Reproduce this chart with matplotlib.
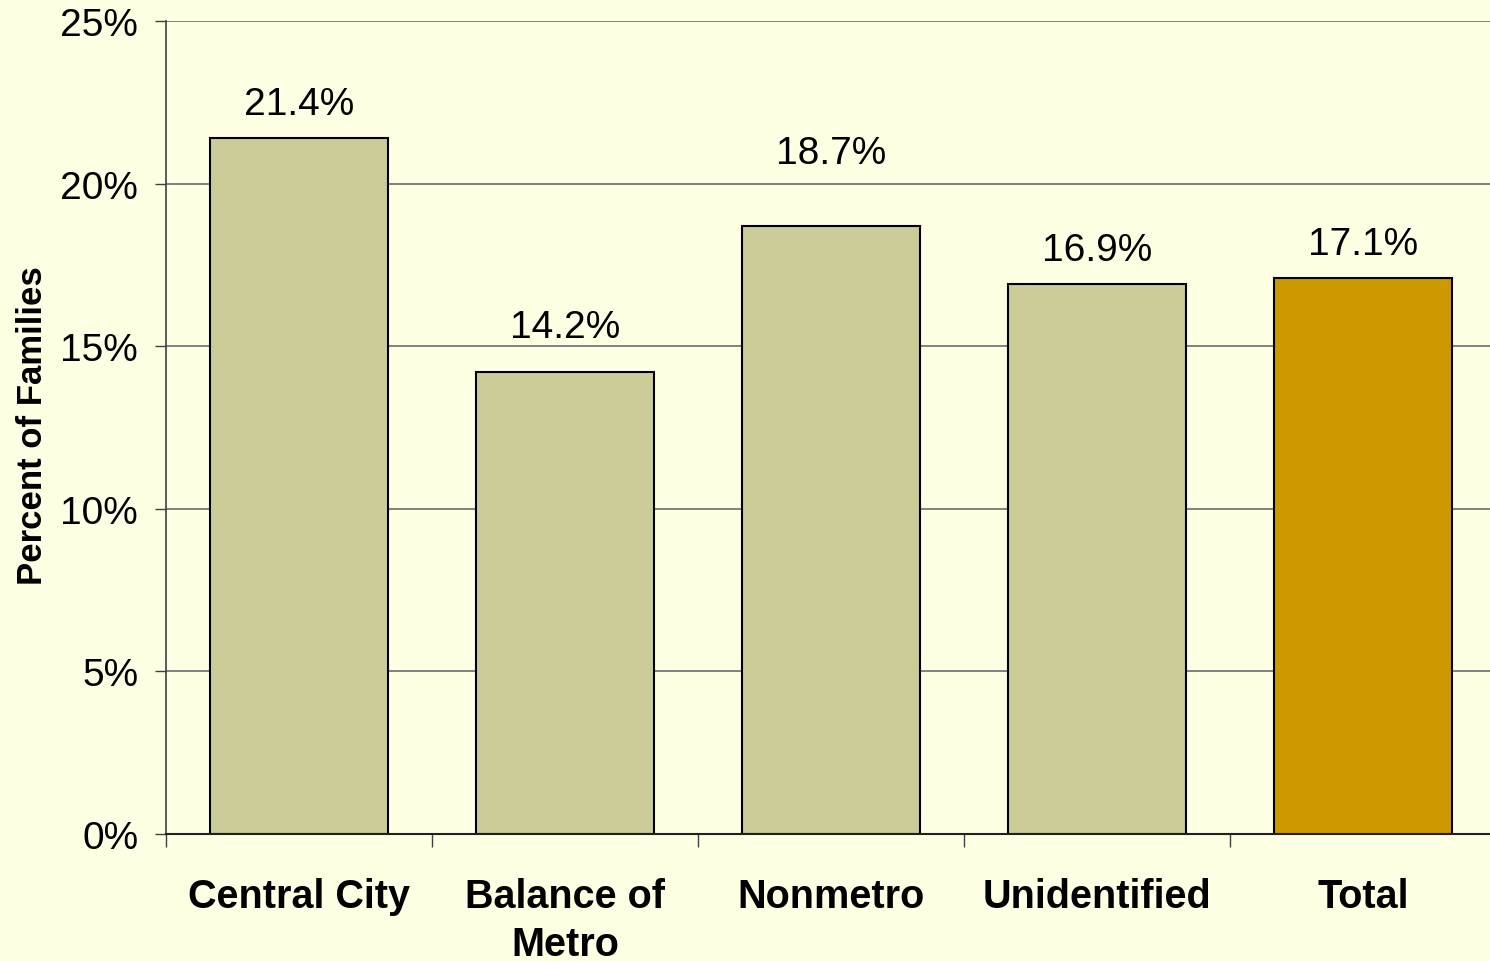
import matplotlib
matplotlib.use("Agg")
import matplotlib.pyplot as plt
from matplotlib.ticker import MultipleLocator, FixedLocator, PercentFormatter

categories = ["Central City", "Balance of\nMetro", "Nonmetro", "Unidentified", "Total"]
values = [21.4, 14.2, 18.7, 16.9, 17.1]
bar_colors = ["#CCCC99", "#CCCC99", "#CCCC99", "#CCCC99", "#CC9900"]
label_offsets_pt = [17.3, 25.2, 45.4, 17.3, 17.3]  # baseline offset of value labels (points)

plt.rcParams['font.family'] = ['Liberation Sans', 'DejaVu Sans']
bg = "#FFFFE3"

fig = plt.figure(figsize=(14.9, 9.62), dpi=100, facecolor=bg)
ax = fig.add_axes([166/1490, 1 - 835/962, 1 - 166/1490, (835 - 22)/962])
ax.set_facecolor(bg)

x = list(range(len(categories)))
ax.bar(x, values, width=0.67, color=bar_colors, edgecolor="black", linewidth=1.5, zorder=3)

for xi, v, off in zip(x, values, label_offsets_pt):
    ax.annotate(f"{v:.1f}%", (xi, v), xytext=(0, off), textcoords="offset points",
                ha="center", va="baseline", fontsize=28, color="black", zorder=4)

ax.set_ylim(0, 25)
ax.set_xlim(-0.5, (1490 - 166) / 266 - 0.5)
ax.yaxis.set_major_locator(MultipleLocator(5))
ax.yaxis.set_major_formatter(PercentFormatter(decimals=0))
ax.grid(axis="y", color="#808080", linewidth=1.4, zorder=0)
ax.set_axisbelow(True)

ax.set_xticks(x)
ax.set_xticklabels(categories, fontsize=28.5, fontweight="bold", linespacing=1.34)
ax.tick_params(axis="x", which="major", length=0, pad=31)
ax.xaxis.set_minor_locator(FixedLocator([-0.5, 0.5, 1.5, 2.5, 3.5]))
ax.tick_params(axis="x", which="minor", length=9, width=1, color="#404040", direction="out")
ax.tick_params(axis="y", which="major", length=8, width=1, color="#404040", labelsize=28, pad=12)

for s in ["top", "right"]:
    ax.spines[s].set_visible(False)
ax.spines["left"].set_color("#404040")
ax.spines["left"].set_linewidth(1.2)
ax.spines["bottom"].set_color("#202020")
ax.spines["bottom"].set_linewidth(1.5)
ax.spines["bottom"].set_zorder(5)

ax.set_ylabel("Percent of Families", fontsize=25, fontweight="bold")
ax.yaxis.set_label_coords(-0.088, 0.504)

fig.savefig("out.png", dpi=100, facecolor=bg)
